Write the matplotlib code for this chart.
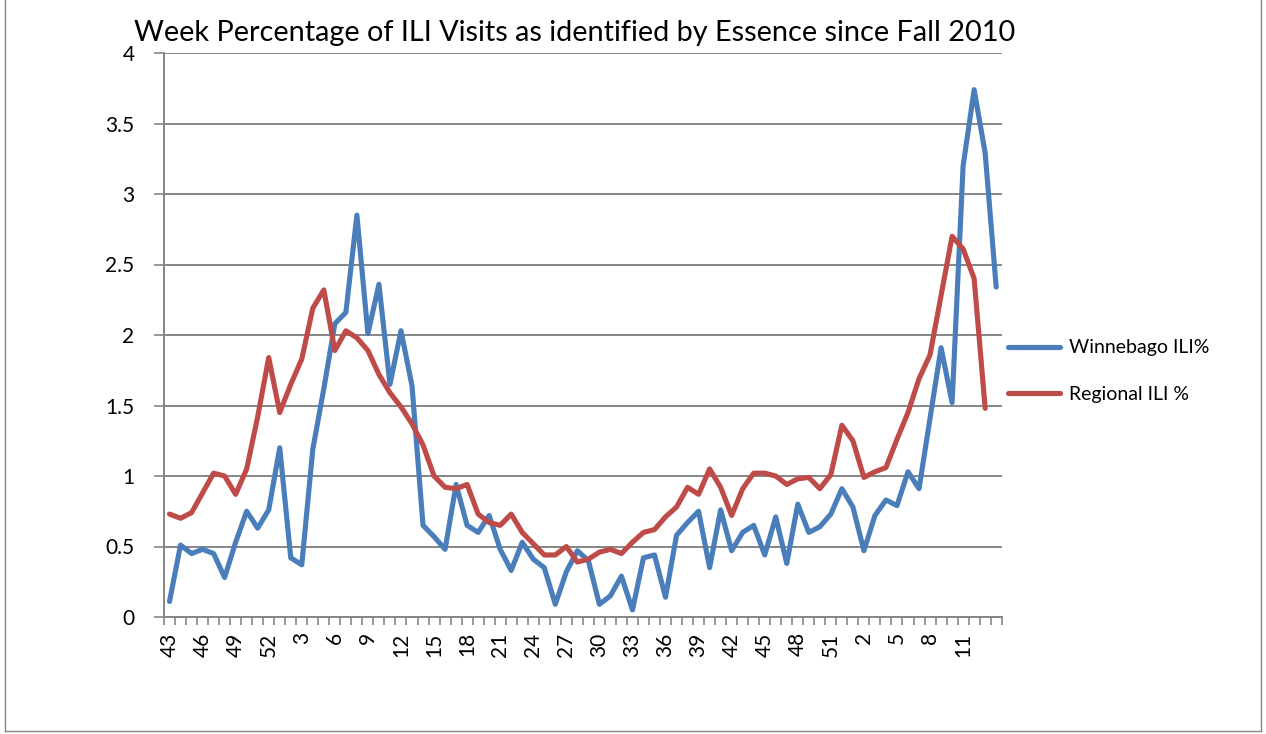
import matplotlib
matplotlib.use("Agg")
import matplotlib.pyplot as plt
from matplotlib.lines import Line2D
import numpy as np

# weeks: fall 2010 (43-52), all of 2011, start of 2012 (last row has no label)
weeks = list(range(43, 53)) + list(range(1, 53)) + list(range(1, 14)) + [""]

winnebago = [0.11, 0.51, 0.45, 0.48, 0.45, 0.28, 0.53, 0.75, 0.63, 0.76, 1.20, 0.42, 0.37,
             1.19, 1.62, 2.08, 2.16, 2.85, 2.01, 2.36, 1.65, 2.03, 1.64, 0.65, 0.57, 0.48,
             0.94, 0.65, 0.60, 0.72, 0.48, 0.33, 0.53, 0.41, 0.35, 0.09, 0.32, 0.47, 0.40,
             0.09, 0.15, 0.29, 0.05, 0.42, 0.44, 0.14, 0.58, 0.67, 0.75, 0.35, 0.76,
             0.47, 0.60, 0.65, 0.44, 0.71, 0.38, 0.80, 0.60, 0.64, 0.73, 0.91, 0.78, 0.47,
             0.72, 0.83, 0.79, 1.03, 0.91, 1.41, 1.91, 1.52, 3.20, 3.74, 3.29, 2.34]

regional = [0.73, 0.70, 0.74, 0.88, 1.02, 1.00, 0.87, 1.05, 1.42, 1.84, 1.45, 1.65, 1.83,
            2.19, 2.32, 1.89, 2.03, 1.98, 1.89, 1.72, 1.59, 1.49, 1.37, 1.22, 1.00, 0.92,
            0.91, 0.94, 0.73, 0.67, 0.65, 0.73, 0.60, 0.52, 0.44, 0.44, 0.50, 0.39, 0.41,
            0.46, 0.48, 0.45, 0.53, 0.60, 0.62, 0.71, 0.78, 0.92, 0.87, 1.05, 0.92,
            0.72, 0.91, 1.02, 1.02, 1.00, 0.94, 0.98, 0.99, 0.91, 1.01, 1.36, 1.25, 0.99,
            1.03, 1.06, 1.26, 1.45, 1.69, 1.86, 2.28, 2.70, 2.61, 2.40, 1.48, np.nan]

y_ticks = [0, 0.5, 1, 1.5, 2, 2.5, 3, 3.5, 4]
y_labels = ["0", "0.5", "1", "1.5", "2", "2.5", "3", "3.5", "4"]

title = "Week Percentage of ILI Visits as identified by Essence since Fall 2010"

plt.rcParams['font.family'] = ['Lato', 'DejaVu Sans']
grey = "#868686"

W, H = 1266, 734
fig = plt.figure(figsize=(W / 100, H / 100), dpi=100)
ax = fig.add_axes([164 / W, 1 - 617 / H, (1001.7 - 164) / W, (617 - 53) / H])

x = np.arange(len(weeks))
ax.plot(x, winnebago, color="#4A7EBB", lw=3.7, label="Winnebago ILI%",
        solid_joinstyle="round", solid_capstyle="round")
ax.plot(x, regional, color="#BE4B48", lw=3.7, label="Regional ILI %",
        solid_joinstyle="round", solid_capstyle="round")

ax.set_xlim(-0.5, len(weeks) - 0.5)
ax.set_ylim(0, 4)

ax.set_yticks(y_ticks)
ax.set_yticklabels(y_labels, fontsize=15)
ax.tick_params(axis="y", length=7.2, width=1.2, color=grey, pad=14)

ax.set_xticks(x[::3])
ax.set_xticklabels([str(w) for w in weeks[::3]], rotation=90, fontsize=15)
ax.set_xticks(np.arange(-0.5, len(weeks), 1), minor=True)
ax.tick_params(axis="x", which="major", length=0, pad=11)
ax.tick_params(axis="x", which="minor", length=6, width=1.2, color=grey)

ax.grid(axis="y", color=grey, lw=1.4)
ax.set_axisbelow(True)
for s in ["top", "right"]:
    ax.spines[s].set_visible(False)
for s in ["left", "bottom"]:
    ax.spines[s].set_color(grey)
    ax.spines[s].set_linewidth(1.4)

fig.text(575 / W, 1 - 33 / H, title, ha="center", va="center", fontsize=20.8)

ax.legend(loc="center left", bbox_to_anchor=(990 / W, 1 - 371 / H),
          bbox_transform=fig.transFigure, frameon=False, fontsize=14,
          handlelength=2.7, handletextpad=0.45, labelspacing=1.5)

# chart border
fig.add_artist(Line2D([5 / W, 1261 / W], [1 - 731 / H, 1 - 731 / H], color=grey, lw=1))
fig.add_artist(Line2D([1261 / W, 1261 / W], [1 - 731 / H, 1], color=grey, lw=1))
fig.add_artist(Line2D([5 / W, 5 / W], [1 - 731 / H, 1], color=grey, lw=1))

fig.savefig("out.png", dpi=100)
